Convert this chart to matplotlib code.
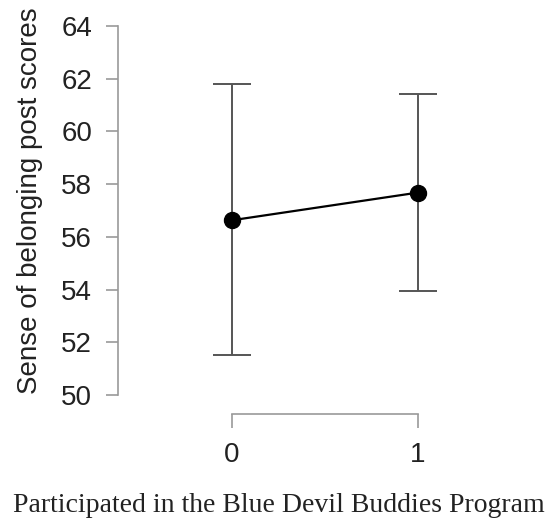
import matplotlib
matplotlib.use("Agg")
import matplotlib.pyplot as plt

# data
groups = [0, 1]
means = [56.63, 57.68]
ci_low = [51.51, 53.96]
ci_high = [61.79, 61.42]
y_ticks = [50, 52, 54, 56, 58, 60, 62, 64]

W, H = 557, 531
fig = plt.figure(figsize=(W / 100, H / 100), dpi=100)

# axes box in pixel coords (left, right, top, bottom)
L, R, T, B = 130, 470, 26, 395
ax = fig.add_axes([L / W, 1 - B / H, (R - L) / W, (B - T) / H])

err_lo = [m - lo for m, lo in zip(means, ci_low)]
err_hi = [hi - m for m, hi in zip(means, ci_high)]
ax.errorbar(groups, means, yerr=[err_lo, err_hi], fmt="none",
            ecolor="#555555", elinewidth=1.4, capsize=13.5, capthick=1.4, zorder=2)
ax.plot(groups, means, color="black", lw=1.6, marker="o", ms=11.5,
        mfc="black", mec="black", zorder=3)

ax.set_xlim((L - 232) / 186, (R - 232) / 186)
ax.set_ylim(50, 64)
ax.set_xticks(groups)
ax.set_yticks(y_ticks)

for s in ["top", "right"]:
    ax.spines[s].set_visible(False)
ax.spines["left"].set_position(("outward", 12 * 0.72))
ax.spines["bottom"].set_position(("outward", 19 * 0.72))
ax.spines["left"].set_bounds(50, 64)
ax.spines["bottom"].set_bounds(0, 1)
for s in ["left", "bottom"]:
    ax.spines[s].set_color("#999999")
    ax.spines[s].set_linewidth(1.2)

ax.tick_params(axis="y", length=8.6, width=1.2, color="#999999", pad=10,
               labelsize=20)
ax.tick_params(axis="x", length=10, width=1.2, color="#999999", pad=10,
               labelsize=20)
for lab in ax.get_xticklabels() + ax.get_yticklabels():
    lab.set_family("Liberation Sans")
    lab.set_color("#222222")

fig.text(30 / W, 1 - 201 / H, "Sense of belonging post scores",
         family="Liberation Sans", fontsize=20, rotation=90,
         ha="center", va="center", color="#222222")

fig.text(279 / W, 1 - 506 / H, "Participated in the Blue Devil Buddies Program",
         family="Liberation Serif", fontsize=20, ha="center", va="center",
         color="#222222")

fig.savefig("out.png", dpi=100)
